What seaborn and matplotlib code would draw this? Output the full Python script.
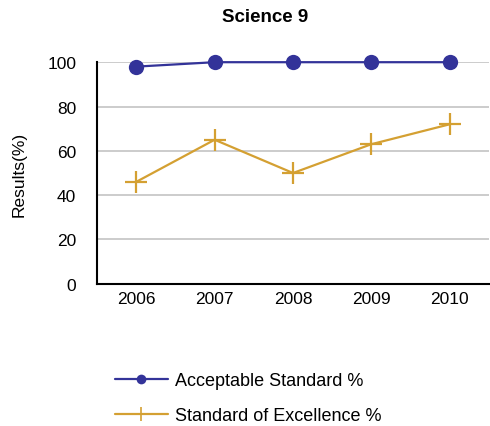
import pandas as pd
import numpy as np
import seaborn as sns
import matplotlib.pyplot as plt

years = ['2006', '2007', '2008', '2009', '2010']
acceptable = [98, 100, 100, 100, 100]
excellence = [46, 65, 50, 63, 72]
series_names = ['Acceptable Standard %', 'Standard of Excellence %']

df = pd.DataFrame({
    'Year': years * 2,
    'Result': acceptable + excellence,
    'Series': [series_names[0]] * len(years) + [series_names[1]] * len(years),
})

sns.set_style('white')
plt.rcParams['font.family'] = ['Liberation Sans', 'DejaVu Sans']
plt.rcParams['text.color'] = 'black'
plt.rcParams['axes.labelcolor'] = 'black'
plt.rcParams['xtick.color'] = 'black'
plt.rcParams['ytick.color'] = 'black'

fig = plt.figure(figsize=(4.9, 4.27), dpi=100)
ax = fig.add_axes([0.198, 0.333, 0.80, 0.519])

colors = {series_names[0]: '#333399', series_names[1]: '#D4A032'}
markers = {series_names[0]: 'o', series_names[1]: '+'}
sizes = {series_names[0]: 11, series_names[1]: 16}

handles = []
for name in series_names:
    sub = df[df['Series'] == name]
    sns.lineplot(data=sub, x='Year', y='Result', ax=ax, color=colors[name],
                 marker=markers[name], markersize=sizes[name],
                 markeredgecolor=colors[name],
                 markeredgewidth=1.6 if name == series_names[1] else 0,
                 linewidth=1.6, clip_on=False, zorder=3, legend=False)
    handles.append(plt.Line2D([], [], color=colors[name], marker=markers[name],
                              markersize=7 if name == series_names[0] else 10,
                              markeredgecolor=colors[name],
                              markeredgewidth=1.2 if name == series_names[1] else 0,
                              linewidth=1.6))

ax.set_xlim(-0.5, 4.5)
ax.set_ylim(0, 100)
ax.set_yticks([0, 20, 40, 60, 80, 100])
ax.yaxis.grid(True, color='#C8C8C8', linewidth=1.3)
ax.set_axisbelow(True)
for s in ['top', 'right']:
    ax.spines[s].set_visible(False)
for s in ['left', 'bottom']:
    ax.spines[s].set_color('black')
    ax.spines[s].set_linewidth(1.5)
ax.tick_params(axis='both', labelsize=12.5, length=0)
ax.tick_params(axis='x', pad=5)
ax.tick_params(axis='y', pad=15)
ax.set_xlabel('')
ax.set_ylabel('Results(%)', fontsize=12.5)
ax.yaxis.set_label_coords(-0.18, 0.5)

fig.text(265 / 490, 1 - 18 / 427, 'Science 9', ha='center', va='center',
         fontsize=13.5, fontweight='bold')

fig.legend(handles, series_names, loc='upper left',
           bbox_to_anchor=(99 / 490, 1 - 357 / 427), frameon=False,
           fontsize=13, handlelength=2.9, labelspacing=1.0, handletextpad=0.4)

fig.savefig('out.png', dpi=100, facecolor='white')
